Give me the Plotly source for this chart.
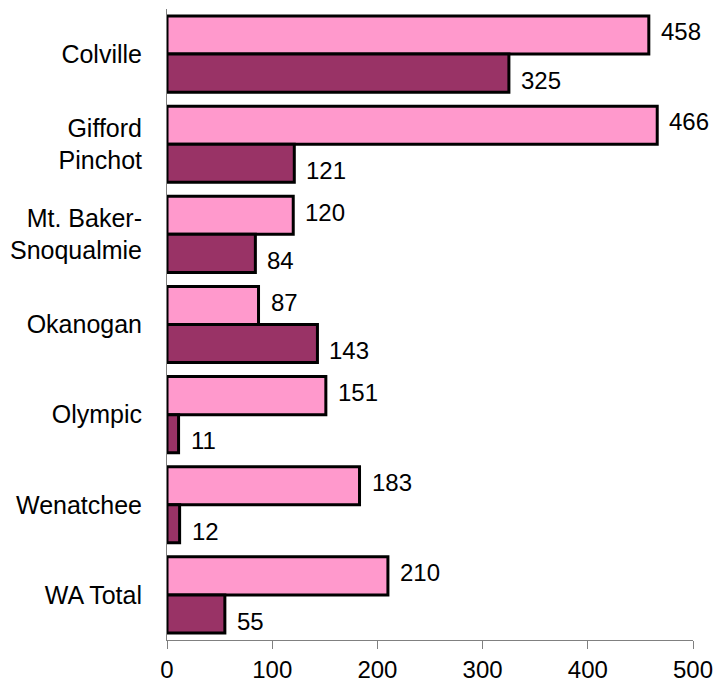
import plotly.graph_objects as go

forests = ["Colville", "Gifford<br>Pinchot", "Mt. Baker-<br>Snoqualmie", "Okanogan",
           "Olympic", "Wenatchee", "WA Total"]
series_a = [458, 466, 120, 87, 151, 183, 210]
series_b = [325, 121, 84, 143, 11, 12, 55]

value_font = dict(family="Liberation Sans, Arial, sans-serif", size=24, color="black")
cat_font = dict(family="Liberation Sans, Arial, sans-serif", size=25, color="black")

# plot-area geometry used to place the value labels beside each bar
height, top, bottom = 692, 9, 46
bargap = 0.155
cat_px = (height - top - bottom) / len(forests)
half_bar = (1 - bargap) * cat_px / 4  # offset of each bar centre from the category centre

fig = go.Figure()
series = [(series_a, "#FF99CC", half_bar + 3), (series_b, "#993366", -half_bar - 7)]
for vals, color, shift in series:
    fig.add_trace(go.Bar(
        x=vals, y=forests, orientation="h",
        marker=dict(color=color, line=dict(color="black", width=3)),
        showlegend=False, hoverinfo="x+y",
    ))
    for v, cat in zip(vals, forests):
        fig.add_annotation(
            x=v, y=cat, text=str(v), showarrow=False,
            xanchor="left", yanchor="middle", xshift=10, yshift=shift,
            font=value_font,
        )

fig.update_layout(
    width=726, height=height,
    margin=dict(l=167, r=33, t=top, b=bottom),
    paper_bgcolor="white", plot_bgcolor="white",
    barmode="group", bargap=bargap, bargroupgap=0,
    font=value_font,
)
fig.update_xaxes(
    range=[0, 500], tickvals=[0, 100, 200, 300, 400, 500],
    showgrid=False, zeroline=False,
    showline=True, linecolor="#808080", linewidth=1,
    ticks="outside", ticklen=8, tickcolor="#808080", tickwidth=1,
    tickfont=value_font,
)
fig.update_yaxes(
    autorange="reversed", showgrid=False, zeroline=False,
    showline=True, linecolor="#808080", linewidth=1,
    ticks="", ticklabelstandoff=19, tickfont=cat_font,
)

fig.write_html("out.html")
